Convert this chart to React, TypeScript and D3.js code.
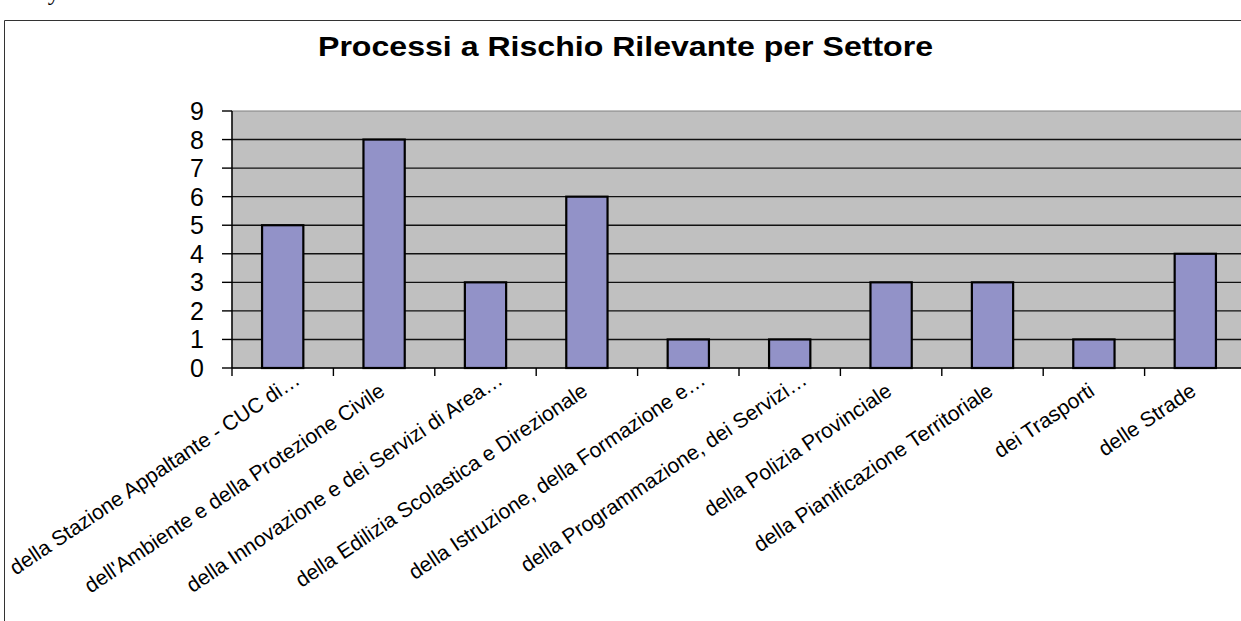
import React from 'react';
import * as d3 from 'd3';

const categories = [
  'della Stazione Appaltante - CUC di…',
  "dell'Ambiente e della Protezione Civile",
  'della Innovazione e dei Servizi di Area…',
  'della Edilizia Scolastica e Direzionale',
  'della Istruzione, della Formazione e…',
  'della Programmazione, dei Servizi…',
  'della Polizia Provinciale',
  'della Pianificazione Territoriale',
  'dei Trasporti',
  'delle Strade',
];
const values = [5, 8, 3, 6, 1, 1, 3, 3, 1, 4];
const yTicks = [0, 1, 2, 3, 4, 5, 6, 7, 8, 9];
const title = 'Processi a Rischio Rilevante per Settore';

const W = 1241;
const H = 621;
const plot = { left: 232, top: 111, bottom: 368, right: 1246 };
const FONT = "'Liberation Sans', Arial, Helvetica, sans-serif";
const ANGLE = 34;

export default function App() {
  // category slots (ticks at their boundaries)
  const slot = d3.scaleBand<string>()
    .domain(categories)
    .range([plot.left, plot.right])
    .padding(0);

  // bars, centred in each slot
  const x = d3.scaleBand<string>()
    .domain(categories)
    .range([plot.left, plot.right])
    .paddingInner(0.593)
    .paddingOuter(0.2965);

  const y = d3.scaleLinear()
    .domain([0, 9])
    .range([plot.bottom, plot.top]);

  const step = slot.step();
  const boundaries = categories.map((c) => slot(c)!).concat([plot.right]);

  return (
    <div style={{ position: 'fixed', left: 0, top: 0 }}>
      <svg width={W} height={H} style={{ display: 'block', background: '#fff' }}>
        {/* stray text from the page above */}
        <text x={41} y={0} fontFamily="'Liberation Serif', 'Times New Roman', serif" fontSize={24} fill="#000">
          ty
        </text>

        {/* outer chart frame */}
        <path d={`M4.5,${H} V20.5 H${W}`} fill="none" stroke="#333" strokeWidth={1} />

        {/* title */}
        <text
          x={318}
          y={56}
          fontFamily={FONT}
          fontWeight="bold"
          fontSize={28}
          textLength={615}
          lengthAdjust="spacingAndGlyphs"
          fill="#000"
        >
          {title}
        </text>

        {/* plot area */}
        <rect
          x={plot.left}
          y={plot.top}
          width={plot.right - plot.left}
          height={plot.bottom - plot.top}
          fill="#c0c0c0"
          stroke="#808080"
          strokeWidth={1}
        />

        {/* gridlines */}
        {yTicks.filter((t) => t > 0 && t < 9).map((t) => (
          <line
            key={'g' + t}
            x1={plot.left}
            x2={plot.right}
            y1={y(t)}
            y2={y(t)}
            stroke="#111"
            strokeWidth={1.4}
          />
        ))}

        {/* bars */}
        {categories.map((c, i) => (
          <rect
            key={'b' + i}
            x={x(c)}
            y={y(values[i])}
            width={x.bandwidth()}
            height={y(0) - y(values[i])}
            fill="#9292c8"
            stroke="#000"
            strokeWidth={2.2}
          />
        ))}

        {/* y axis */}
        <line x1={plot.left} x2={plot.left} y1={plot.top} y2={plot.bottom} stroke="#000" strokeWidth={1.4} />
        {yTicks.map((t) => (
          <g key={'y' + t}>
            <line x1={plot.left - 10} x2={plot.left} y1={y(t)} y2={y(t)} stroke="#000" strokeWidth={1.4} />
            <text
              x={204}
              y={y(t)}
              dy="0.36em"
              textAnchor="end"
              fontFamily={FONT}
              fontSize={25}
              fill="#000"
            >
              {t}
            </text>
          </g>
        ))}

        {/* x axis */}
        <line x1={plot.left} x2={plot.right} y1={plot.bottom} y2={plot.bottom} stroke="#000" strokeWidth={1.4} />
        {boundaries.map((bx, i) => (
          <line key={'t' + i} x1={bx} x2={bx} y1={plot.bottom} y2={plot.bottom + 8} stroke="#000" strokeWidth={1.4} />
        ))}
        {categories.map((c, i) => {
          const cx = slot(c)! + step / 2;
          const ex = c.endsWith('…') ? 7 : -13;
          return (
            <text
              key={'l' + i}
              transform={`translate(${cx},${plot.bottom}) rotate(${-ANGLE})`}
              x={ex}
              y={22.9}
              textAnchor="end"
              fontFamily={FONT}
              fontSize={21}
              fill="#000"
            >
              {c}
            </text>
          );
        })}
      </svg>
    </div>
  );
}
